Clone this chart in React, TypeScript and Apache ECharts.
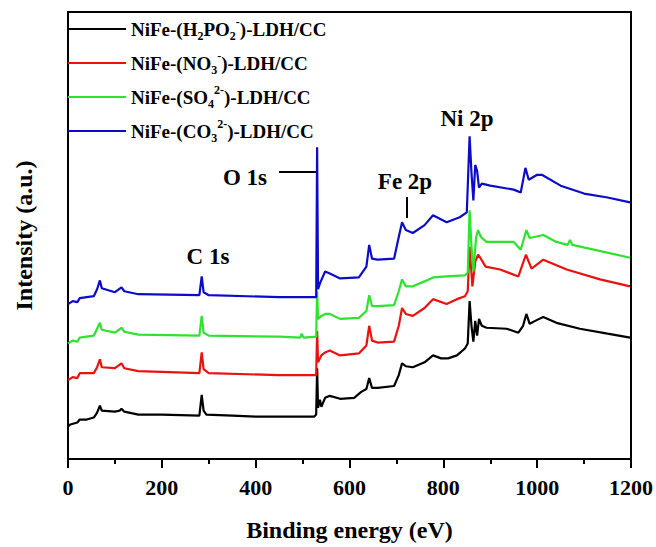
import React, { useEffect, useRef } from 'react';
import * as echarts from 'echarts';

const FONT = '"Liberation Serif", "Times New Roman", Times, serif';

// Series names (plain text) and their rich-text legend labels
const seriesNames = [
  'NiFe-(H2PO2-)-LDH/CC',
  'NiFe-(NO3-)-LDH/CC',
  'NiFe-(SO42-)-LDH/CC',
  'NiFe-(CO32-)-LDH/CC',
];
const legendLabels = [
  'NiFe-(H{sub|2}PO{sub|2}{sup|-})-LDH/CC',
  'NiFe-(NO{sub|3}{sup|-})-LDH/CC',
  'NiFe-(SO{sub|4}{sup|2-})-LDH/CC',
  'NiFe-(CO{sub|3}{sup|2-})-LDH/CC',
];
const seriesColors = ['#000000', '#e8120f', '#2ee22e', '#0c0cc8'];

// Binding energy (eV) vs intensity (a.u., arbitrary offset scale)
const spectrumH2PO2: [number, number][] = [
  [0, 33], [5, 35], [20, 37], [25, 40], [40, 40], [55, 42], [62, 47], [68, 54], [72, 49],
  [100, 48], [110, 49], [114, 51], [120, 48], [150, 45], [200, 45], [280, 44], [285, 65],
  [289, 49], [295, 45], [350, 44], [400, 43], [450, 43], [525, 43], [529, 45], [531, 92],
  [533, 52], [537, 60], [540, 53], [548, 62], [558, 64], [580, 61], [610, 62], [625, 68],
  [636, 71], [642, 82], [648, 72], [660, 72], [695, 74], [705, 85], [712, 97], [720, 94],
  [735, 93], [760, 98], [778, 105], [795, 102], [810, 102], [829, 105], [846, 112],
  [852, 117], [856, 160], [860, 135], [864, 119], [868, 140], [872, 125], [876, 142],
  [882, 135], [892, 133], [935, 132], [960, 128], [970, 135], [977, 147], [984, 137],
  [1000, 141], [1013, 144], [1041, 138], [1091, 132], [1150, 127], [1198, 123],
];
const spectrumNO3: [number, number][] = [
  [0, 80], [10, 83], [20, 82], [25, 87], [55, 87], [62, 93], [68, 101], [72, 93],
  [100, 92], [114, 97], [120, 92], [150, 89], [280, 87], [285, 108], [289, 91], [300, 87],
  [450, 85], [529, 85], [531, 130], [533, 98], [540, 105], [548, 108], [558, 110],
  [580, 105], [620, 107], [636, 115], [642, 135], [648, 120], [660, 118], [695, 119],
  [705, 135], [712, 153], [720, 147], [735, 145], [760, 153], [778, 162], [807, 157],
  [829, 162], [846, 165], [852, 170], [856, 215], [862, 175], [868, 200], [874, 207],
  [880, 203], [890, 195], [921, 192], [960, 185], [976, 207], [988, 193], [1013, 202],
  [1063, 192], [1134, 182], [1198, 175],
];
const spectrumSO4: [number, number][] = [
  [0, 117], [10, 120], [20, 119], [25, 123], [55, 125], [62, 132], [68, 138], [72, 131],
  [100, 128], [114, 133], [120, 129], [150, 126], [280, 125], [285, 145], [289, 128],
  [300, 125], [450, 124], [495, 123], [498, 127], [502, 123], [529, 124], [531, 170],
  [533, 142], [540, 145], [548, 147], [558, 147], [580, 142], [620, 143], [636, 150],
  [642, 166], [648, 155], [660, 155], [695, 156], [705, 170], [712, 182], [720, 175],
  [735, 175], [760, 180], [778, 184], [807, 185], [846, 186], [852, 189], [856, 252],
  [860, 215], [864, 190], [870, 225], [874, 232], [880, 225], [892, 220], [950, 220],
  [965, 212], [977, 232], [984, 224], [1013, 227], [1041, 220], [1065, 217], [1070, 222],
  [1075, 217], [1198, 204],
];
const spectrumCO3: [number, number][] = [
  [0, 157], [10, 160], [20, 159], [25, 163], [55, 165], [62, 172], [68, 181], [72, 173],
  [100, 169], [114, 174], [120, 170], [150, 167], [280, 166], [285, 185], [289, 169],
  [300, 166], [450, 164], [529, 164], [531, 316], [533, 172], [537, 178], [548, 190],
  [558, 188], [580, 183], [620, 184], [636, 195], [642, 217], [648, 203], [660, 202],
  [695, 203], [705, 225], [712, 240], [720, 232], [735, 229], [760, 237], [778, 247],
  [807, 240], [835, 245], [850, 250], [856, 327], [860, 290], [864, 262], [868, 298],
  [872, 292], [876, 275], [882, 279], [900, 277], [950, 273], [965, 270], [975, 295],
  [982, 283], [1000, 288], [1010, 288], [1050, 277], [1100, 269], [1150, 265], [1198, 260],
];
const spectra = [spectrumH2PO2, spectrumNO3, spectrumSO4, spectrumCO3];

const xMin = 0;
const xMax = 1200;
const xInterval = 200;
const yMin = 0;
const yMax = 453;

export default function App() {
  const ref = useRef<HTMLDivElement>(null);
  useEffect(() => {
    if (!ref.current) return;
    const chart = echarts.init(ref.current, undefined, { renderer: 'svg' });
    const labelMap: Record<string, string> = {};
    seriesNames.forEach((n, i) => (labelMap[n] = legendLabels[i]));
    const annText = (text: string, x: number, y: number) => ({
      type: 'text',
      x,
      y,
      style: {
        text,
        fontSize: 23,
        fontWeight: 'bold',
        fontFamily: FONT,
        fill: '#000',
        textAlign: 'center',
        textVerticalAlign: 'middle',
      },
    });
    chart.setOption({
      animation: false,
      backgroundColor: '#fff',
      grid: {
        left: 68,
        right: 25,
        top: 12,
        bottom: 82,
        show: true,
        borderColor: '#000',
        borderWidth: 2,
      },
      legend: {
        orient: 'vertical',
        left: 68,
        top: 16,
        padding: 0,
        itemWidth: 58,
        itemHeight: 2,
        itemGap: 8,
        icon: 'rect',
        data: seriesNames.map((name) => ({ name, icon: 'rect' })),
        formatter: (name: string) => labelMap[name] || name,
        textStyle: {
          fontFamily: FONT,
          fontWeight: 'bold',
          fontSize: 19,
          lineHeight: 26,
          color: '#000',
          rich: {
            sub: { fontFamily: FONT, fontWeight: 'bold', fontSize: 12, lineHeight: 12, verticalAlign: 'bottom', color: '#000' },
            sup: { fontFamily: FONT, fontWeight: 'bold', fontSize: 12, lineHeight: 12, verticalAlign: 'top', color: '#000' },
          },
        },
      },
      xAxis: {
        type: 'value',
        min: xMin,
        max: xMax,
        interval: xInterval,
        name: 'Binding energy (eV)',
        nameLocation: 'middle',
        nameGap: 59,
        nameTextStyle: { fontFamily: FONT, fontWeight: 'bold', fontSize: 24, color: '#000' },
        axisLine: { show: true, lineStyle: { color: '#000', width: 2 } },
        axisTick: { show: true, length: 9, lineStyle: { color: '#000', width: 2 } },
        minorTick: { show: true, splitNumber: 2, length: 5, lineStyle: { color: '#000', width: 2 } },
        axisLabel: {
          margin: 17,
          fontFamily: FONT,
          fontWeight: 'bold',
          fontSize: 22,
          color: '#000',
          formatter: (v: number) => String(v),
        },
        splitLine: { show: false },
      },
      yAxis: {
        type: 'value',
        min: yMin,
        max: yMax,
        name: 'Intensity (a.u.)',
        nameLocation: 'middle',
        nameGap: 32,
        nameTextStyle: { fontFamily: FONT, fontWeight: 'bold', fontSize: 24, color: '#000' },
        axisLine: { show: true, lineStyle: { color: '#000', width: 2 } },
        axisTick: { show: false },
        axisLabel: { show: false },
        splitLine: { show: false },
      },
      series: seriesNames.map((name, i) => ({
        name,
        type: 'line',
        data: spectra[i],
        symbol: 'none',
        showSymbol: false,
        color: seriesColors[i],
        lineStyle: { color: seriesColors[i], width: 2.2 },
        z: 2 + i,
      })),
      graphic: [
        annText('O 1s', 245, 177),
        { type: 'line', shape: { x1: 279, y1: 172, x2: 316, y2: 172 }, style: { stroke: '#000', lineWidth: 2 } },
        annText('C 1s', 208, 256),
        annText('Fe 2p', 405, 181),
        { type: 'line', shape: { x1: 407, y1: 197, x2: 407, y2: 218 }, style: { stroke: '#000', lineWidth: 2 } },
        annText('Ni 2p', 467, 118),
      ],
    });
    return () => chart.dispose();
  }, []);
  return (
    <div
      ref={ref}
      style={{ position: 'absolute', left: 0, top: 0, width: 656, height: 547, background: '#fff' }}
    />
  );
}
